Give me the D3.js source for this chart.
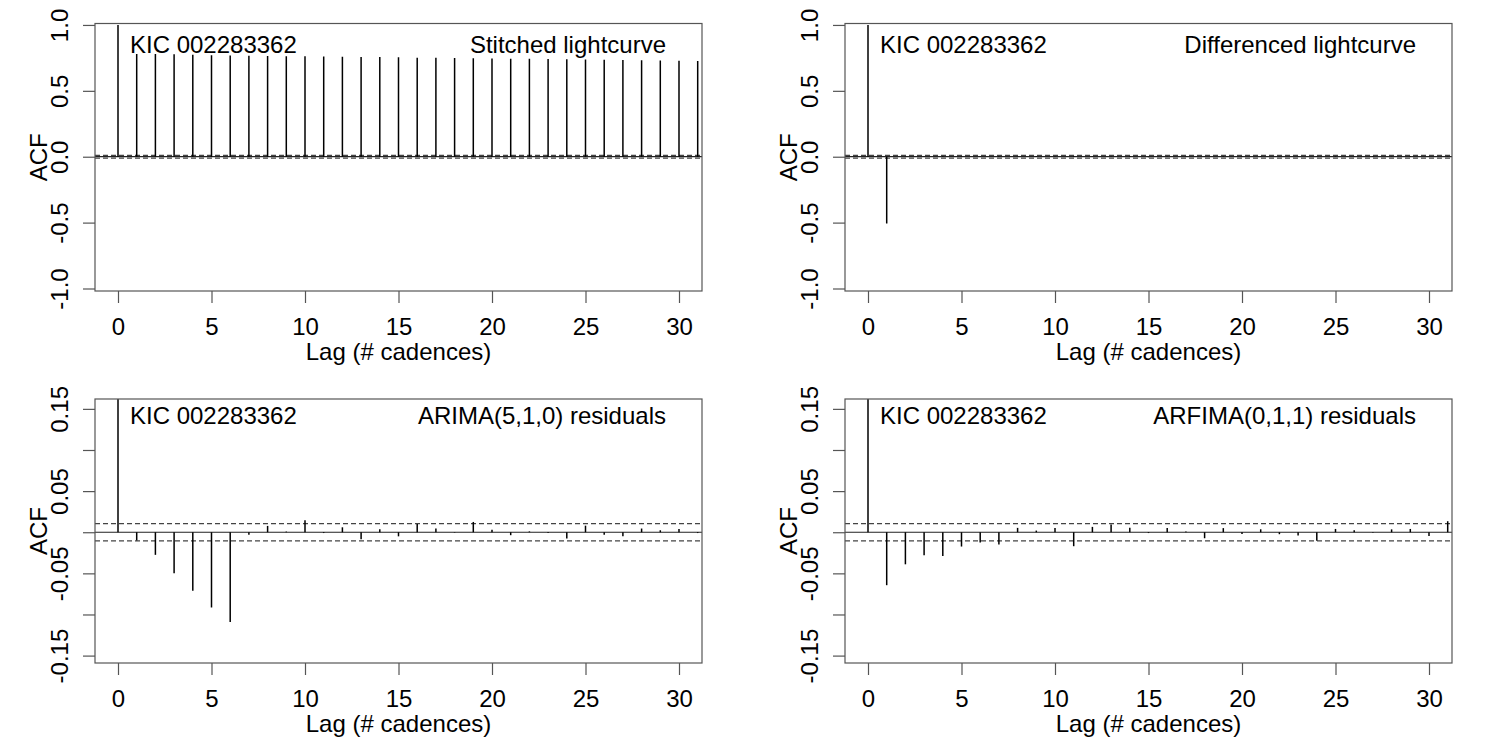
<!DOCTYPE html>
<meta charset="utf-8">
<style>
  body { margin: 0; background: #fff; }
  svg { display: block; }
  text { font-family: "Liberation Sans", Arial, sans-serif; fill: #000; }
  .box { fill: none; stroke: #555; stroke-width: 1.2; }
  .bar { stroke: #000; stroke-width: 1.5; }
  .zero { stroke: #222; stroke-width: 1.2; }
  .band { stroke: #444; stroke-width: 1.1; stroke-dasharray: 5,3; }
  .axis path, .axis line { stroke: #555; stroke-width: 1.2; }
</style>
<body>
</body>
<script src="https://cdn.jsdelivr.net/npm/d3@7"></script>
<script>
  const lags = [0, 1, 2, 3, 4, 5, 6, 7, 8, 9, 10, 11, 12, 13, 14, 15,
                16, 17, 18, 19, 20, 21, 22, 23, 24, 25, 26, 27, 28, 29, 30, 31];

  const acfStitched = [1, 0.780, 0.779, 0.777, 0.773, 0.771, 0.768, 0.766, 0.765, 0.763, 0.762,
                       0.760, 0.759, 0.757, 0.756, 0.754, 0.752, 0.751, 0.749, 0.747, 0.746,
                       0.744, 0.743, 0.741, 0.739, 0.738, 0.736, 0.734, 0.732, 0.731, 0.728, 0.726];

  const acfDiff = [1, -0.506, 0.002, -0.002, 0.003, -0.003, 0.002, 0.004, -0.002, 0.003, -0.002,
                   0.004, -0.003, -0.002, 0.003, -0.004, 0.002, -0.003, 0.002, 0.003, -0.002,
                   0.003, -0.003, 0.002, -0.002, 0.004, -0.002, 0.003, -0.003, 0.003, -0.002, 0.002];

  const acfArima = [1, -0.010, -0.0275, -0.050, -0.071, -0.0915, -0.109, -0.003, 0.0077, 0.0008, 0.0146,
                    -0.001, 0.006, -0.0085, 0.0036, -0.005, 0.010, 0.0045, -0.0005, 0.0125, 0.003,
                    -0.0036, 0.001, -0.001, -0.0077, 0.008, -0.003, -0.005, 0.0045, 0.0024, 0.004, -0.001];

  const acfArfima = [1, -0.0644, -0.039, -0.028, -0.0288, -0.0174, -0.0126, -0.015, 0.0053, 0.002, 0.005,
                     -0.017, 0.0065, 0.0093, 0.0053, -0.001, 0.005, 0.001, -0.0073, 0.005, -0.002,
                     0.0036, -0.0024, -0.004, -0.0105, 0.004, 0.0024, -0.0005, 0.0035, 0.004, -0.0045, 0.0134];

  const ciBand = 0.0105;

  const xTicks = [0, 5, 10, 15, 20, 25, 30];
  const yTicksTop = [-1, -0.5, 0, 0.5, 1];
  const yTicksBottom = [-0.15, -0.10, -0.05, 0, 0.05, 0.10, 0.15];
  const yLabelsBottom = [-0.15, -0.05, 0.05, 0.15];

  const starName = 'KIC 002283362';
  const titles = ['Stitched lightcurve', 'Differenced lightcurve',
                  'ARIMA(5,1,0) residuals', 'ARFIMA(0,1,1) residuals'];

  const W = 1500, H = 750;
  const FS = '24px';
  const svg = d3.select('body').append('svg').attr('width', W).attr('height', H);

  // R style labels with a plain hyphen
  const num = (v, p) => (v < 0 ? '-' : '') + Math.abs(v).toFixed(p);
  const fmt = v => num(v, 1);
  const fmt2 = v => yLabelsBottom.some(t => Math.abs(t - v) < 1e-9) ? num(v, 2) : '';

  function panel(i, values, dx, top, bottom, yDomain, yTicks, yFmt, labelY) {
    const l = 95 + dx, r = 702 + dx;
    const x = d3.scaleLinear().domain([-1.23, 31.23]).range([l, r]);
    const y = d3.scaleLinear().domain(yDomain).range([bottom, top]);
    const g = svg.append('g');

    const clipId = 'clip' + i;
    g.append('clipPath').attr('id', clipId)
      .append('rect').attr('x', l).attr('y', top).attr('width', r - l).attr('height', bottom - top);

    const plot = g.append('g').attr('clip-path', `url(#${clipId})`);

    plot.append('line').attr('class', 'zero')
      .attr('x1', l).attr('x2', r).attr('y1', y(0)).attr('y2', y(0));

    plot.selectAll('.band')
      .data([ciBand, -ciBand])
      .join('line')
      .attr('class', 'band')
      .attr('x1', l).attr('x2', r)
      .attr('y1', d => y(d)).attr('y2', d => y(d));

    plot.selectAll('.bar')
      .data(lags)
      .join('line')
      .attr('class', 'bar')
      .attr('x1', d => x(d)).attr('x2', d => x(d))
      .attr('y1', y(0)).attr('y2', (d, k) => y(values[k]));

    g.append('rect').attr('class', 'box')
      .attr('x', l).attr('y', top).attr('width', r - l).attr('height', bottom - top);

    // x axis
    const xa = g.append('g').attr('class', 'axis')
      .attr('transform', `translate(0, ${bottom})`)
      .call(d3.axisBottom(x).tickValues(xTicks).tickSize(12).tickSizeOuter(0));
    xa.select('.domain').remove();
    xa.selectAll('text').attr('y', 44).attr('dy', 0).style('font-size', FS);

    // y axis, labels parallel to the axis
    const ya = g.append('g').attr('class', 'axis')
      .attr('transform', `translate(${l}, 0)`)
      .call(d3.axisLeft(y).tickValues(yTicks).tickSize(12).tickSizeOuter(0).tickFormat(yFmt));
    ya.select('.domain').remove();
    ya.selectAll('text')
      .attr('x', null).attr('dy', null)
      .attr('text-anchor', 'middle')
      .attr('transform', 'translate(-27, 0) rotate(-90)')
      .style('font-size', FS);

    g.append('text')
      .attr('transform', `translate(${l - 48}, ${(top + bottom) / 2}) rotate(-90)`)
      .attr('text-anchor', 'middle')
      .style('font-size', FS)
      .text('ACF');

    g.append('text')
      .attr('x', (l + r) / 2).attr('y', bottom + 69)
      .attr('text-anchor', 'middle')
      .style('font-size', FS)
      .text('Lag (# cadences)');

    g.append('text')
      .attr('x', l + 35).attr('y', labelY)
      .style('font-size', FS)
      .text(starName);

    g.append('text')
      .attr('x', r - 36).attr('y', labelY)
      .attr('text-anchor', 'end')
      .style('font-size', FS)
      .text(titles[i]);
  }

  const topDomain = [-1.019, 1.011];
  const botDomain = [-0.159, 0.162];

  panel(0, acfStitched, 0, 23.5, 291, topDomain, yTicksTop, fmt, 53);
  panel(1, acfDiff, 750, 23.5, 291, topDomain, yTicksTop, fmt, 53);
  panel(2, acfArima, 0, 399, 663, botDomain, yTicksBottom, fmt2, 424);
  panel(3, acfArfima, 750, 399, 663, botDomain, yTicksBottom, fmt2, 424);
</script>
